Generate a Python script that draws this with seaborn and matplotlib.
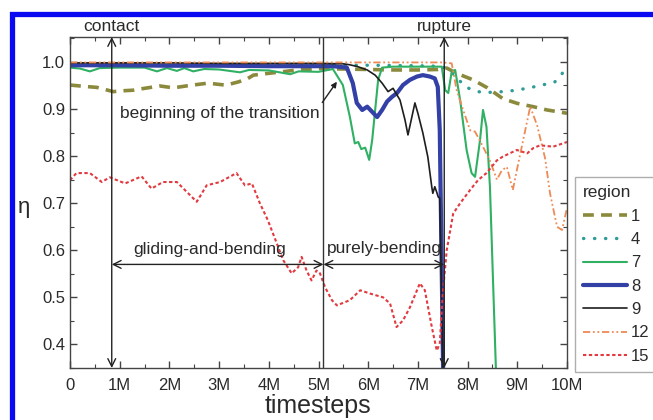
import matplotlib
matplotlib.use("Agg")
import matplotlib.pyplot as plt
from matplotlib.patches import Rectangle
from matplotlib.ticker import MultipleLocator
import seaborn as sns
import pandas as pd

# ---- data: order parameter eta per region vs. timesteps (millions) ----
t1 = [0, 0.3, 0.54, 0.87, 1.1, 1.27, 1.5, 1.81, 2.08, 2.4, 2.78, 3.11, 3.22, 3.4, 3.58, 3.69,
      4.09, 4.5, 5.0, 5.5, 6.0, 6.5, 7.0, 7.4, 7.58, 7.8, 8.11, 8.4, 8.71, 9.0, 9.32, 9.6, 10.0]
v1 = [0.951, 0.948, 0.946, 0.937, 0.939, 0.940, 0.944, 0.949, 0.945, 0.950, 0.955, 0.951, 0.953,
      0.958, 0.965, 0.972, 0.977, 0.982, 0.986, 0.985, 0.984, 0.983, 0.983, 0.984, 0.987, 0.975,
      0.962, 0.945, 0.922, 0.912, 0.905, 0.898, 0.891]

t4 = [0, 2, 4, 6, 7.0, 7.4, 7.58, 7.75, 7.95, 8.1, 8.3, 8.6, 8.9, 9.2, 9.5, 9.75, 9.9, 10.0]
v4 = [0.995, 0.995, 0.994, 0.993, 0.992, 0.991, 0.987, 0.970, 0.948, 0.940, 0.935, 0.936, 0.939,
      0.944, 0.951, 0.957, 0.975, 0.992]

t7 = [0, 0.2, 0.4, 0.6, 1.0, 1.5, 1.75, 1.95, 2.15, 2.3, 2.48, 2.7, 3.0, 3.42, 3.6, 4.0, 4.43,
      4.6, 5.0, 5.29, 5.49, 5.63, 5.73, 5.80, 5.86, 5.94, 6.02, 6.08, 6.20, 6.28, 6.5, 7.0, 7.40,
      7.48, 7.55, 7.61, 7.68, 7.75, 7.85, 7.98, 8.08, 8.15, 8.25, 8.31, 8.38, 8.45, 8.60]
v7 = [0.988, 0.986, 0.980, 0.987, 0.988, 0.988, 0.980, 0.987, 0.981, 0.987, 0.980, 0.985, 0.984,
      0.978, 0.983, 0.982, 0.974, 0.980, 0.979, 0.985, 0.951, 0.884, 0.827, 0.830, 0.815, 0.818,
      0.792, 0.834, 0.962, 0.988, 0.990, 0.990, 0.990, 0.990, 0.940, 0.934, 0.979, 0.983, 0.919,
      0.813, 0.764, 0.756, 0.834, 0.898, 0.862, 0.734, 0.25]

t8 = [0, 1, 2, 3, 4, 5, 5.29, 5.57, 5.69, 5.77, 5.88, 5.98, 6.08, 6.18, 6.28, 6.38, 6.48, 6.58,
      6.70, 6.84, 6.98, 7.10, 7.24, 7.34, 7.40, 7.44, 7.52]
v8 = [0.993, 0.993, 0.992, 0.992, 0.991, 0.991, 0.991, 0.988, 0.955, 0.913, 0.898, 0.905, 0.894,
      0.883, 0.898, 0.916, 0.926, 0.934, 0.951, 0.962, 0.969, 0.972, 0.969, 0.965, 0.947, 0.855,
      0.25]

t9 = [0, 1, 2, 3, 4, 5, 5.5, 5.63, 5.79, 5.98, 6.14, 6.28, 6.40, 6.50, 6.64, 6.74, 6.80, 6.94,
      7.00, 7.10, 7.20, 7.28, 7.30, 7.34, 7.38, 7.41, 7.44, 7.52]
v9 = [0.998, 0.998, 0.998, 0.997, 0.997, 0.997, 0.996, 0.994, 0.990, 0.983, 0.972, 0.955, 0.937,
      0.944, 0.919, 0.877, 0.845, 0.913, 0.891, 0.849, 0.798, 0.734, 0.721, 0.735, 0.723, 0.713,
      0.711, 0.25]

t12 = [0, 2, 4, 6, 7, 7.5, 7.68, 7.78, 7.91, 8.05, 8.15, 8.31, 8.45, 8.59, 8.69, 8.79, 8.91,
       9.01, 9.15, 9.26, 9.40, 9.56, 9.66, 9.80, 9.90, 10.0]
v12 = [0.999, 0.999, 0.999, 0.999, 0.999, 0.999, 0.997, 0.940, 0.898, 0.855, 0.852, 0.820, 0.790,
       0.750, 0.770, 0.777, 0.728, 0.780, 0.850, 0.905, 0.865, 0.795, 0.720, 0.650, 0.643, 0.690]

t15 = [0, 0.13, 0.40, 0.64, 0.80, 1.11, 1.44, 1.64, 1.87, 2.15, 2.35, 2.55, 2.75, 3.02, 3.35,
       3.52, 3.66, 3.82, 3.98, 4.16, 4.29, 4.46, 4.59, 4.66, 4.76, 4.86, 4.96, 5.03, 5.13, 5.27,
       5.37, 5.63, 5.84, 6.04, 6.30, 6.44, 6.57, 6.70, 6.84, 7.04, 7.14, 7.28, 7.38, 7.44, 7.50,
       7.58, 7.71, 7.85, 8.05, 8.21, 8.38, 8.59, 8.71, 8.99, 9.20, 9.32, 9.46, 9.72, 10.0]
v15 = [0.749, 0.764, 0.764, 0.745, 0.755, 0.742, 0.757, 0.731, 0.745, 0.745, 0.724, 0.703, 0.738,
       0.745, 0.764, 0.738, 0.742, 0.700, 0.664, 0.615, 0.579, 0.551, 0.564, 0.586, 0.557, 0.536,
       0.557, 0.551, 0.522, 0.494, 0.483, 0.494, 0.515, 0.508, 0.500, 0.487, 0.437, 0.451, 0.479,
       0.530, 0.515, 0.437, 0.387, 0.402, 0.508, 0.600, 0.678, 0.700, 0.728, 0.749, 0.764, 0.791,
       0.799, 0.813, 0.806, 0.817, 0.823, 0.820, 0.830]

region_labels = ["1", "4", "7", "8", "9", "12", "15"]
xtick_vals = list(range(11))
xtick_labels = ["0"] + [f"{i}M" for i in range(1, 11)]

# event positions (timesteps, millions)
t_contact = 0.84
t_transition = 5.10
t_rupture = 7.53

series = [(t1, v1), (t4, v4), (t7, v7), (t8, v8), (t9, v9), (t12, v12), (t15, v15)]
styles = [
    dict(color="#8b8a3c", lw=2.6, ls=(0, (3, 2))),
    dict(color="#2f9c98", lw=2.4, ls=(0, (0.1, 3.2)), dash_capstyle="round"),
    dict(color="#2fb063", lw=1.5, ls="-"),
    dict(color="#3340a6", lw=3.0, ls="-"),
    dict(color="#1e1e1e", lw=1.2, ls="-"),
    dict(color="#ee8a55", lw=1.3, ls=(0, (4, 1.5, 1, 1.5, 1, 1.5))),
    dict(color="#e23a40", lw=1.5, ls=(0, (1.6, 1.2))),
]

sns.set_style("ticks")
plt.rcParams["font.family"] = ["Liberation Sans", "DejaVu Sans"]
plt.rcParams["text.color"] = "#2a2a2a"

fig = plt.figure(figsize=(6.53, 4.2), dpi=100)
ax = fig.add_axes([70 / 653, 1 - 368 / 420, 497 / 653, 331 / 420])

for lab, (tx, vy), st in zip(region_labels, series, styles):
    df = pd.DataFrame({"t": tx, "eta": vy})
    sty = dict(st)
    ls = sty.pop("ls")
    sns.lineplot(data=df, x="t", y="eta", ax=ax, label=lab, linestyle=ls,
                 estimator=None, sort=True, **sty)

ax.set_xlim(0, 10)
ax.set_ylim(0.35, 1.053)
ax.set_xticks(xtick_vals)
ax.set_xticklabels(xtick_labels)
ax.set_yticks([0.4, 0.5, 0.6, 0.7, 0.8, 0.9, 1.0])
ax.set_yticklabels(["0.4", "0.5", "0.6", "0.7", "0.8", "0.9", "1.0"])
ax.xaxis.set_minor_locator(MultipleLocator(0.5))
ax.yaxis.set_minor_locator(MultipleLocator(0.05))
ax.tick_params(which="both", direction="in", top=True, right=True, colors="#444",
               labelcolor="#2a2a2a", labelsize=12)
ax.tick_params(which="major", length=5, width=1)
ax.tick_params(which="minor", length=3, width=0.8)
ax.tick_params(axis="x", pad=7)
for sp in ax.spines.values():
    sp.set_color("#444")
    sp.set_linewidth(1)
ax.set_xlabel("")
ax.set_ylabel("")

ylo, yhi = ax.get_ylim()
arrow_kw = dict(arrowstyle="<->", lw=1.0, color="#222", shrinkA=0, shrinkB=0,
                mutation_scale=14)
# contact and rupture markers
for tx_, name in [(t_contact, "contact"), (t_rupture, "rupture")]:
    ax.annotate("", xy=(tx_, yhi), xytext=(tx_, ylo), arrowprops=arrow_kw,
                annotation_clip=False)
    ax.text(tx_, 1.076, name, ha="center", va="center", fontsize=12.5, clip_on=False)
ax.axvline(t_transition, color="#333", lw=1.0)

# regime spans
y_span = 0.570
ax.annotate("", xy=(t_contact, y_span), xytext=(t_transition, y_span), arrowprops=arrow_kw)
ax.annotate("", xy=(t_transition, y_span), xytext=(t_rupture, y_span), arrowprops=arrow_kw)
ax.text((t_contact + t_transition) / 2 - 0.16, 0.602, "gliding-and-bending",
        ha="center", va="center", fontsize=12.5)
ax.text(6.33, 0.603, "purely-bending", ha="center", va="center", fontsize=12.5)

ax.annotate("beginning of the transition", xy=(5.37, 0.958), xytext=(5.03, 0.891),
            ha="right", va="center", fontsize=12.5,
            arrowprops=dict(arrowstyle="-|>", lw=1.0, color="#222", shrinkA=0, shrinkB=0,
                            mutation_scale=8, relpos=(1.0, 1.0)))

fig.text(24 / 653, 1 - 207 / 420, "η", fontsize=16, ha="center", va="center")
fig.text(318 / 653, 1 - 406 / 420, "timesteps", fontsize=18, ha="center", va="center")

leg = ax.legend(title="region", loc="upper left", bbox_to_anchor=(575 / 653, 1 - 177 / 420),
                bbox_transform=fig.transFigure, frameon=True, fancybox=False,
                fontsize=12, title_fontsize=12.5, handlelength=2.6, handletextpad=0.25,
                labelspacing=0.5, borderpad=0.5, borderaxespad=0, alignment="left")
leg.get_frame().set_edgecolor("#9a9a9a")
leg.get_frame().set_linewidth(1.0)

# blue frame around the figure (open on the right and bottom)
fig.patches.append(Rectangle((12.5 / 653, -0.5), 2.0, (1 - 13.5 / 420) + 0.5,
                             transform=fig.transFigure, fill=False, edgecolor="#0a0af2",
                             lw=3.8, clip_on=False))

fig.savefig("out.png", dpi=100)
